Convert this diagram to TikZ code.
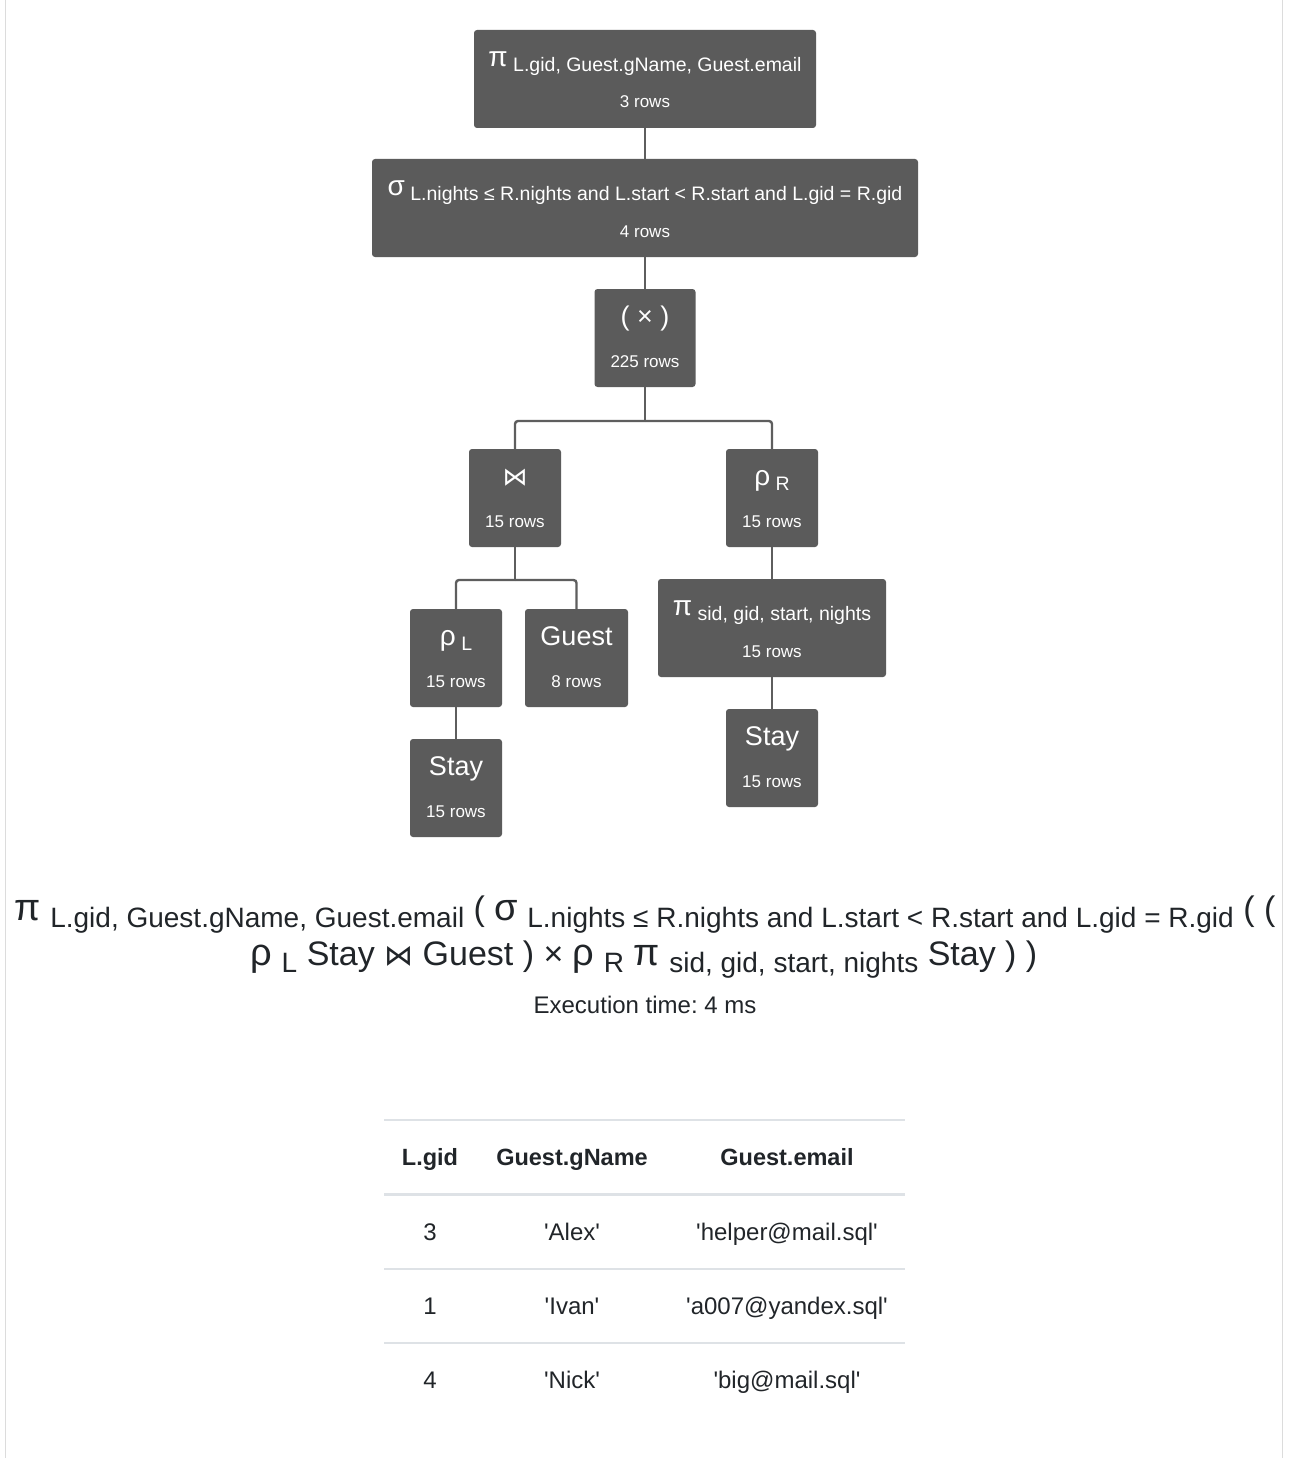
\documentclass[tikz,border=0pt]{standalone}
\usepackage{fontspec}
\setmainfont{Liberation Sans}
\newfontfamily\djv{DejaVu Sans}
\frenchspacing
\definecolor{boxgray}{HTML}{5B5B5B}
\definecolor{linegray}{HTML}{5E5E5E}
\definecolor{framegray}{HTML}{DCDCDC}
\definecolor{rulegray}{HTML}{DEE2E6}
\definecolor{txt}{HTML}{212529}
\newcommand\fs[1]{\fontsize{#1}{#1}\selectfont}
\newcommand\nsub[1]{\raisebox{-5pt}{\fs{19.5}#1}}
\newcommand\esub[1]{\raisebox{-7pt}{\fs{28}#1}}
\newcommand\q{\textquotesingle}
\tikzset{
  opbox/.style={fill=boxgray, rounded corners=3pt, minimum height=98pt, inner sep=0pt},
  optext/.style={text=white, inner sep=0pt, font=\fs{19.5}},
  conn/.style={draw=linegray, line width=2.4pt, rounded corners=3pt},
  expr/.style={text=txt, inner sep=0pt, anchor=base},
  cell/.style={text=txt, inner sep=0pt, anchor=base, font=\fs{24}},
  hcell/.style={cell, font=\fs{23.5}\bfseries},
}
\newcommand\opnode[6]{%
  \node[opbox, minimum width=#4pt] (#1) at (#2,#3+49) {};
  \node[optext, anchor=base] (#1a) at (#2,#3+36.5) {#5};
  \node[optext, anchor=base, font=\fs{17}] (#1b) at (#2,#3+78) {#6};
}
\begin{document}
\begin{tikzpicture}[x=1pt,y=-1pt]
\useasboundingbox (0,0) rectangle (1288,1458);
\fill[white] (0,0) rectangle (1288,1458);
\draw[framegray, line width=1.5pt] (5.5,0) -- (5.5,1458);
\draw[framegray, line width=1.5pt] (1282.5,0) -- (1282.5,1458);

% tree nodes
\opnode{n1}{645}{30}{342}{{\fs{28}π} \nsub{L.gid, Guest.gName, Guest.email}}{3 rows}
\opnode{n2}{645}{159}{546}{{\fs{28}σ} \nsub{L.nights ≤ R.nights and L.start < R.start and L.gid = R.gid}}{4 rows}
\opnode{n3}{645}{289}{101}{{\fs{27}( × )}}{225 rows}
\opnode{n4}{515}{449}{92}{{\djv\fs{25}⋈}}{15 rows}
\opnode{n5}{772}{449}{92}{{\fs{28}ρ} \nsub{R}}{15 rows}
\opnode{n6}{456}{609}{92}{{\fs{28}ρ} \nsub{L}}{15 rows}
\opnode{n7}{576.5}{609}{103}{{\fs{27}Guest}}{8 rows}
\opnode{n8}{772}{579}{228}{{\fs{28}π} \nsub{sid, gid, start, nights}}{15 rows}
\opnode{n9}{456}{739}{92}{{\fs{27}Stay}}{15 rows}
\opnode{n10}{772}{709}{92}{{\fs{27}Stay}}{15 rows}

% connectors
\coordinate (b1) at (n3.south |- 0,421);
\coordinate (b2) at (n4.south |- 0,580);
\draw[conn] (n1.south) -- (n2.north);
\draw[conn] (n2.south) -- (n3.north);
\draw[conn] (n3.south) -- (b1);
\draw[conn] (b1) -| (n4.north);
\draw[conn] (b1) -| (n5.north);
\draw[conn] (n4.south) -- (b2);
\draw[conn] (b2) -| (n6.north);
\draw[conn] (b2) -| (n7.north);
\draw[conn] (n5.south) -- (n8.north);
\draw[conn] (n6.south) -- (n9.north);
\draw[conn] (n8.south) -- (n10.north);

% expression
\node[expr, font=\fs{34}] (e1) at (645,920) {{\fs{38}π} \esub{L.gid, Guest.gName, Guest.email} ( {\fs{38}σ} \esub{L.nights ≤ R.nights and L.start < R.start and L.gid = R.gid} ( (};
\node[expr, font=\fs{34}] (e2) at (644,965) {{\fs{38}ρ} \esub{L} Stay {\djv\fs{29}⋈} Guest ) × {\fs{38}ρ} \esub{R} {\fs{38}π} \esub{sid, gid, start, nights} Stay ) )};
\node[expr, font=\fs{24}] (exec) at (645,1013) {Execution time: 4 ms};

% table
\draw[rulegray, line width=1.5pt] (384,1120) -- (905,1120);
\draw[rulegray, line width=3pt] (384,1194) -- (905,1194);
\draw[rulegray, line width=1.5pt] (384,1269) -- (905,1269);
\draw[rulegray, line width=1.5pt] (384,1343) -- (905,1343);
\node[hcell] (h1) at (430,1165) {L.gid};
\node[hcell] (h2) at (572,1165) {Guest.gName};
\node[hcell] (h3) at (787,1165) {Guest.email};
\node[cell] (r11) at (430,1240) {3};
\node[cell] (r12) at (572,1240) {\q Alex\q};
\node[cell] (r13) at (787,1240) {\q helper@mail.sql\q};
\node[cell] (r21) at (430,1314) {1};
\node[cell] (r22) at (572,1314) {\q Ivan\q};
\node[cell] (r23) at (787,1314) {\q a007@yandex.sql\q};
\node[cell] (r31) at (430,1388) {4};
\node[cell] (r32) at (572,1388) {\q Nick\q};
\node[cell] (r33) at (787,1388) {\q big@mail.sql\q};
\end{tikzpicture}
\end{document}
